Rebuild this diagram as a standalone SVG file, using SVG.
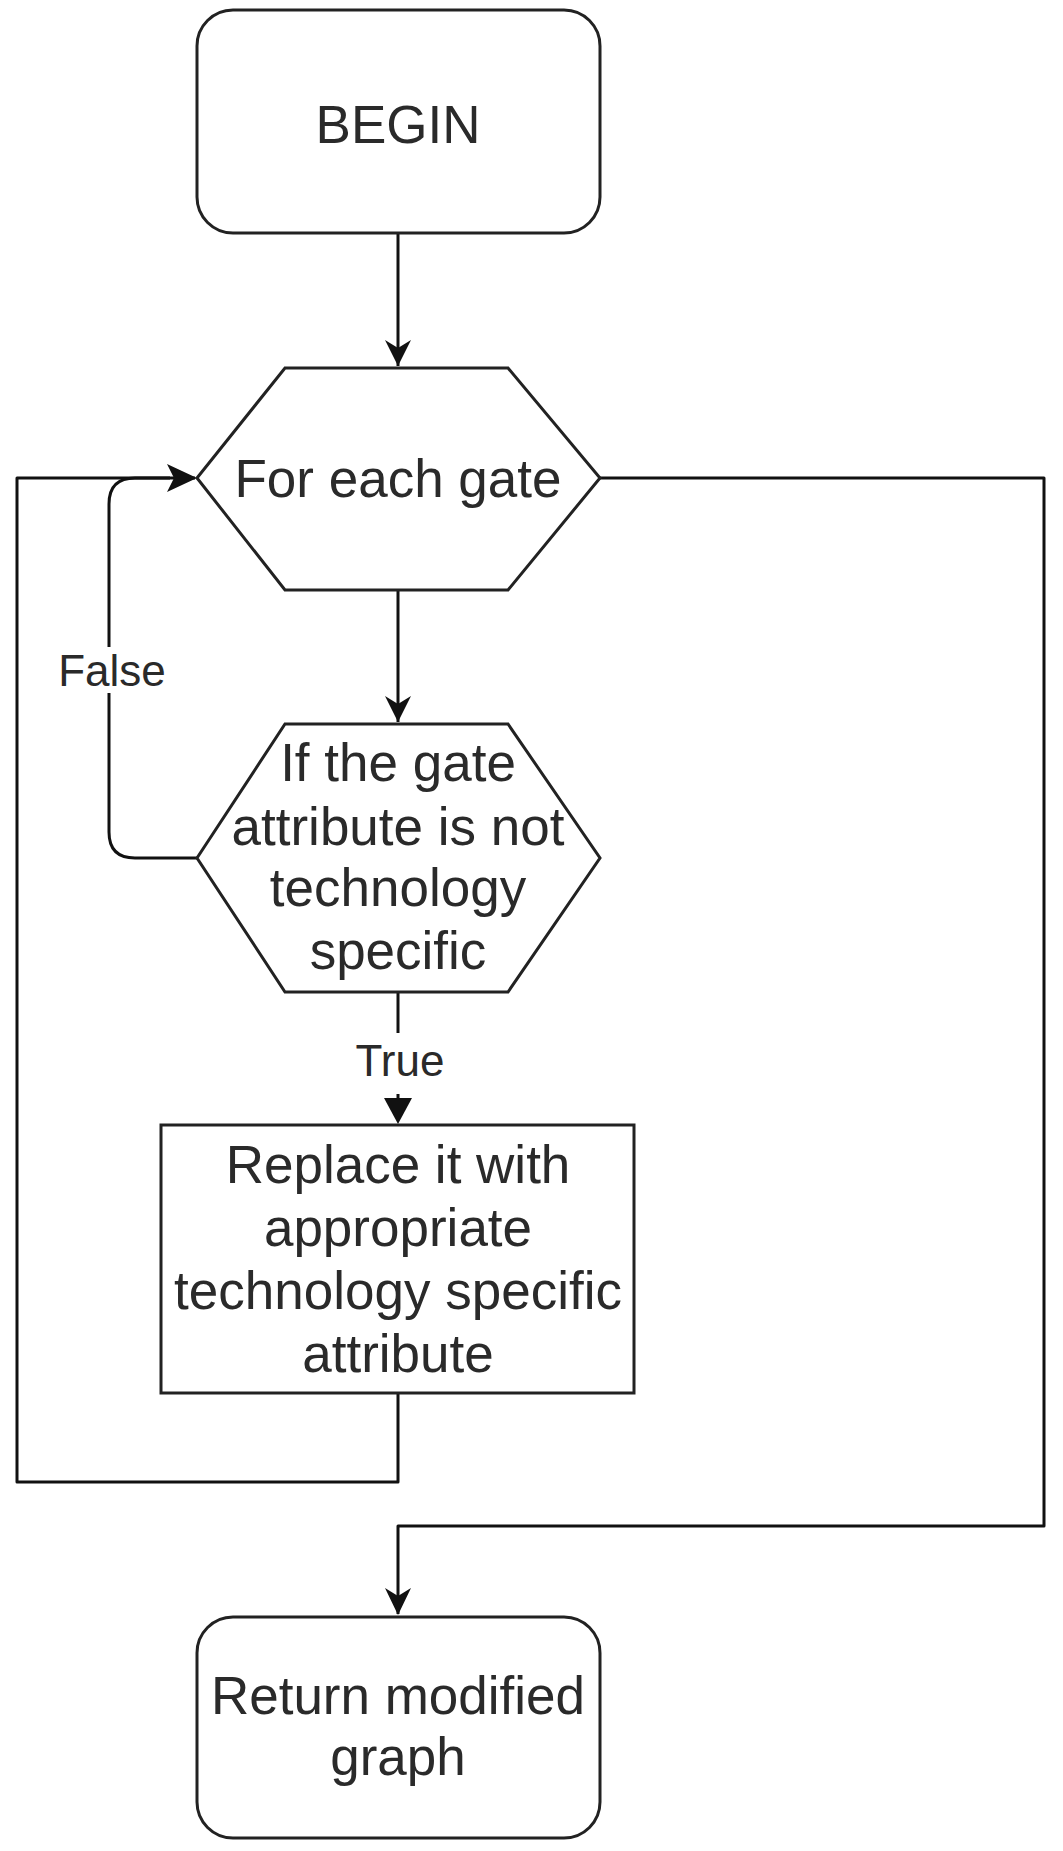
<svg xmlns="http://www.w3.org/2000/svg" width="1063" height="1851" viewBox="0 0 1063 1851">
<style>
.s{fill:#fff;stroke:#222;stroke-width:3}
.c{fill:none;stroke:#111;stroke-width:3;stroke-linejoin:round}
text{font-family:"Liberation Sans",Arial,sans-serif;font-size:53px;fill:#2a2a2a;text-anchor:middle}
.l{font-size:44px}
</style>
<defs><marker id="a" markerWidth="10" markerHeight="10" refX="9" refY="5" orient="auto" markerUnits="userSpaceOnUse" viewBox="0 0 10 10"><path d="M0,0 L10,5 L0,10 Z" fill="#111"/></marker></defs>
<g id="connectors">
<path class="c" d="M398,233 V366" marker-end="url(#a)" style="marker-end:none"/>
<path d="M385,340 L398,366 L411,340 L398,348 Z" fill="#111"/>
<path class="c" d="M398,590 V722"/>
<path d="M385,696 L398,722 L411,696 L398,704 Z" fill="#111"/>
<path class="c" d="M398,992 V1033"/>
<path class="c" d="M398,1094 V1100"/>
<path d="M384,1098 L398,1124 L412,1098 Z" fill="#111"/>
<path class="c" d="M197,858 H135 Q109,858 109,832 V504 Q109,478 135,478 H195"/>
<path class="c" d="M398,1393 V1482 H17 V478 H170"/>
<path d="M167,464 L197,478 L167,492 L174,478 Z" fill="#111"/>
<path class="c" d="M600,478 H1044 V1526 H398 V1614"/>
<path d="M385,1588 L398,1615 L411,1588 L398,1596 Z" fill="#111"/>
<rect x="60" y="647" width="100" height="46" fill="#fff"/>
<text class="l" x="112" y="686">False</text>
<text class="l" x="400" y="1076">True</text>
</g>
<g id="begin"><rect class="s" x="197" y="10" width="403" height="223" rx="36"/><text x="398" y="143">BEGIN</text></g>
<g id="foreach"><polygon class="s" points="197,478 285,368 508,368 600,478 508,590 285,590"/><text x="398" y="497">For each gate</text></g>
<g id="decision"><polygon class="s" points="197,858 285,724 508,724 600,858 508,992 285,992"/>
<text x="398" y="781">If the gate</text><text x="398" y="845">attribute is not</text><text x="398" y="906">technology</text><text x="398" y="969">specific</text></g>
<g id="replace"><rect class="s" x="161" y="1125" width="473" height="268"/>
<text x="398" y="1183">Replace it with</text><text x="398" y="1246">appropriate</text><text x="398" y="1309">technology specific</text><text x="398" y="1372">attribute</text></g>
<g id="return"><rect class="s" x="197" y="1617" width="403" height="221" rx="36"/><text x="398" y="1714">Return modified</text><text x="398" y="1775">graph</text></g>
</svg>
